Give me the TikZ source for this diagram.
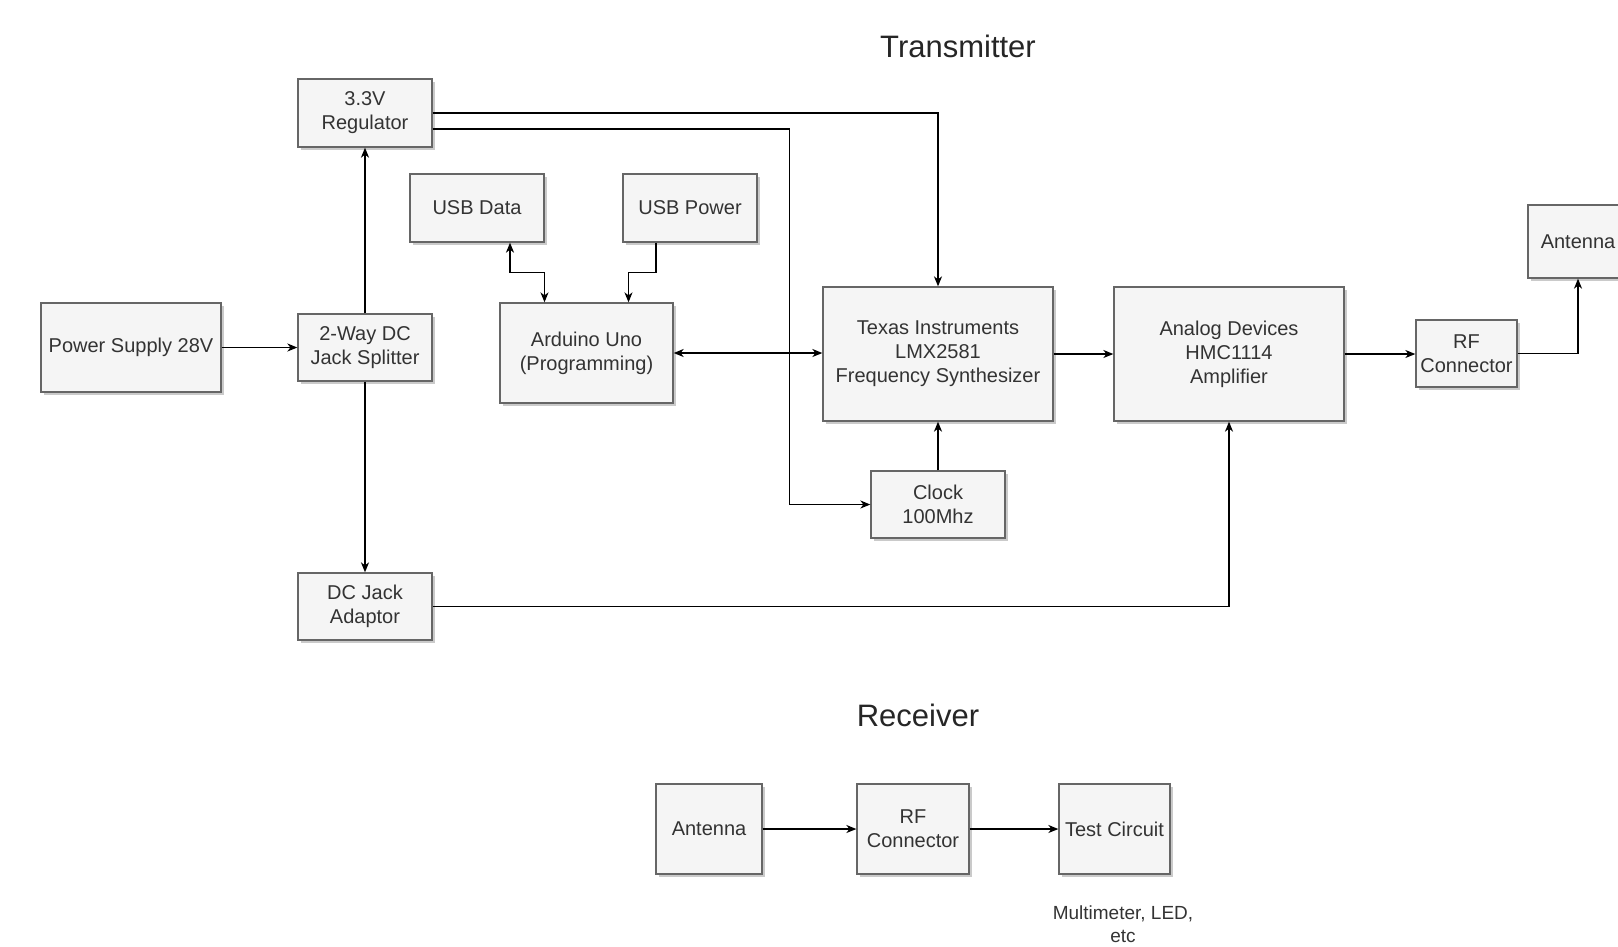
\documentclass[tikz,border=0pt]{standalone}
\usepackage{fontspec}
\setmainfont{Liberation Sans}
\usepackage{tikz}
\usetikzlibrary{calc,positioning,arrows.meta,shadows}
\definecolor{boxfill}{HTML}{F5F5F5}
\definecolor{boxline}{HTML}{666666}
\definecolor{txt}{HTML}{333333}
\tikzstyle{block}     = [rectangle, draw=boxline, line width=1.3pt, fill=boxfill, text=txt, align=center, inner sep=0pt, font=\fontsize{20}{24}\selectfont, drop shadow={shadow xshift=3pt, shadow yshift=-3pt, fill=black!35, opacity=0.6}]
\tikzstyle{arrow}     = [line width=1.3pt, ->, >={Stealth[length=10pt, width=8pt, inset=3pt]}]
\tikzstyle{title}     = [text=black!85, font=\fontsize{31}{36}\selectfont]

\begin{document}
\begin{tikzpicture}[x=1pt, y=-1pt]
        \useasboundingbox (0,0) rectangle (1618,946);

        % transmitter
        \node[title] (txtitle) at (958,46) {Transmitter};
        \node[block, minimum width=134pt, minimum height=68pt] (reg) at (365,113) {3.3V\\Regulator};
        \node[block, minimum width=134pt, minimum height=68pt] (usbd) at (477,208) {USB Data};
        \node[block, minimum width=134pt, minimum height=68pt] (usbp) at (690,208) {USB Power};
        \node[block, minimum width=100pt, minimum height=73pt] (ant) at (1578,241.5) {Antenna};
        \node[block, minimum width=180pt, minimum height=89pt] (ps) at (131,347.5) {Power Supply 28V};
        \node[block, minimum width=134pt, minimum height=67pt] (split) at (365,347.5) {2-Way DC\\Jack Splitter};
        \node[block, minimum width=173pt, minimum height=100pt] (ard) at (586.5,353) {Arduino Uno\\(Programming)};
        \node[block, minimum width=230pt, minimum height=134pt] (ti) at (938,354) {Texas Instruments\\LMX2581\\Frequency Synthesizer};
        \node[block, minimum width=230pt, minimum height=134pt] (ad) at (1229,354) {Analog Devices\\HMC1114\\Amplifier};
        \node[block, minimum width=101pt, minimum height=67pt] (rf) at (1466.5,353.5) {RF\\Connector};
        \node[block, minimum width=134pt, minimum height=67pt] (clk) at (938,504.5) {Clock\\100Mhz};
        \node[block, minimum width=134pt, minimum height=67pt] (dcj) at (365,606.5) {DC Jack\\Adaptor};

        \draw[arrow] (ps.east) -- (ps.east -| split.west);
        \draw[arrow] (split) -- (reg);
        \draw[arrow] (split) -- (dcj);
        \draw[arrow] (reg.east) -| (ti.north);
        \draw[arrow] ([yshift=-16pt]reg.east) -- ++(357,0) |- (clk.west);
        \draw[arrow, <->] ([xshift=33pt]usbd.south) -- ++(0,30) -| ([xshift=-42pt]ard.north);
        \draw[arrow] ([xshift=-34pt]usbp.south) -- ++(0,30) -| ([xshift=42pt]ard.north);
        \draw[arrow, <->] (ard.east) -- (ard.east -| ti.west);
        \draw[arrow] (clk) -- (ti);
        \draw[arrow] (ti) -- (ad);
        \draw[arrow] (ad.east) -- (ad.east -| rf.west);
        \draw[arrow] (rf.east) -| (ant.south);
        \draw[arrow] (dcj.east) -| (ad.south);

        % receiver
        \node[title] (rxtitle) at (918,715) {Receiver};
        \node[block, minimum width=106pt, minimum height=90pt] (rant) at (709,829) {Antenna};
        \node[block, minimum width=112pt, minimum height=90pt] (rrf) at (913,829) {RF\\Connector};
        \node[block, minimum width=111pt, minimum height=90pt] (test) at (1114.5,829) {Test Circuit};
        \node[text=txt, align=center, font=\fontsize{19}{23}\selectfont] (note) at (1123,924) {Multimeter, LED,\\etc};

        \draw[arrow] (rant) -- (rrf);
        \draw[arrow] (rrf) -- (test);
    \end{tikzpicture}
\end{document}
